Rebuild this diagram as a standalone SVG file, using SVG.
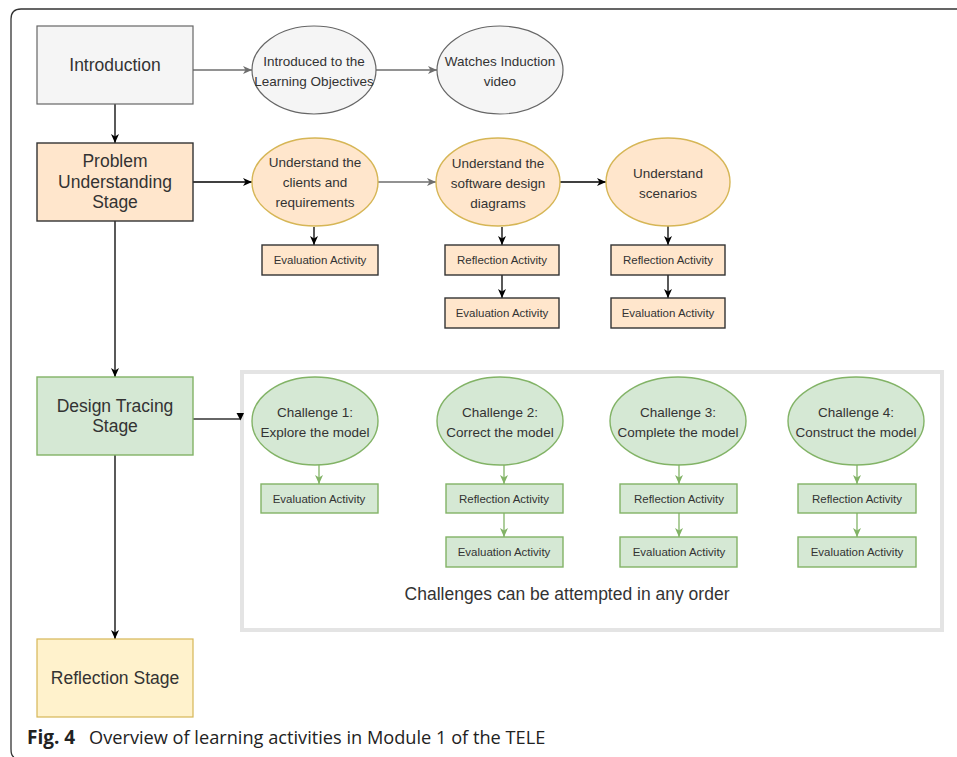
<svg xmlns="http://www.w3.org/2000/svg" width="957" height="757" viewBox="0 0 957 757">
  <defs>
    <marker id="ah-black" markerUnits="userSpaceOnUse" markerWidth="10" markerHeight="10" viewBox="0 0 10 10" refX="9" refY="5" orient="auto">
      <path d="M0,1 L9,5 L0,9 L2.5,5 Z" fill="#000"/>
    </marker>
    <marker id="ah-gray" markerUnits="userSpaceOnUse" markerWidth="10" markerHeight="10" viewBox="0 0 10 10" refX="9" refY="5" orient="auto">
      <path d="M0,1 L9,5 L0,9 L2.5,5 Z" fill="#6e6e6e"/>
    </marker>
    <marker id="ah-green" markerUnits="userSpaceOnUse" markerWidth="10" markerHeight="10" viewBox="0 0 10 10" refX="9" refY="5" orient="auto">
      <path d="M0,1 L9,5 L0,9 L2.5,5 Z" fill="#82b366"/>
    </marker>
    <style>
      text { font-family: "Liberation Sans", Arial, sans-serif; fill: #333; text-anchor: middle; }
      .stage { font-size: 17.5px; }
      .oval { font-size: 13.5px; }
      .act { font-size: 11.5px; }
      .gray { fill: #f5f5f5; stroke: #666; stroke-width: 1.2; }
      .orange { fill: #ffe6cc; stroke: #d6b656; stroke-width: 1.4; }
      .orange-dark { fill: #ffe6cc; stroke: #333; stroke-width: 1.4; }
      .green { fill: #d5e8d4; stroke: #82b366; stroke-width: 1.4; }
      .yellow { fill: #fff2cc; stroke: #d6b656; stroke-width: 1.2; }
      .c-black { stroke: #000; stroke-width: 1.3; fill: none; marker-end: url(#ah-black); }
      .c-gray { stroke: #6e6e6e; stroke-width: 1.3; fill: none; marker-end: url(#ah-gray); }
      .c-green { stroke: #82b366; stroke-width: 1.3; fill: none; marker-end: url(#ah-green); }
      .caption { font-family: "Open Sans", "Noto Sans", sans-serif; font-size: 18.2px; fill: #222; text-anchor: start; }
    </style>
  </defs>

  <rect width="957" height="757" fill="#fff"/>

  <!-- figure frame (open to the right and bottom) -->
  <path d="M957,9 H21 Q11,9 11,19 V749 Q11,756 14,757" fill="none" stroke="#333" stroke-width="1.3"/>

  <!-- challenge container -->
  <rect x="242" y="372" width="700" height="258" fill="none" stroke="#e4e4e4" stroke-width="4"/>

  <g id="connectors">
    <line class="c-gray" x1="193" y1="70" x2="252" y2="70"/>
    <line class="c-gray" x1="376" y1="70" x2="437" y2="70"/>
    <line class="c-black" x1="115" y1="104" x2="115" y2="143"/>
    <line class="c-black" x1="193" y1="182" x2="252" y2="182"/>
    <line class="c-gray" x1="378" y1="182" x2="436" y2="182"/>
    <line class="c-black" x1="560" y1="182" x2="606" y2="182"/>
    <line class="c-black" x1="314" y1="227" x2="314" y2="245"/>
    <line class="c-black" x1="502" y1="227" x2="502" y2="245"/>
    <line class="c-black" x1="502" y1="275" x2="502" y2="298"/>
    <line class="c-black" x1="668" y1="226" x2="668" y2="245"/>
    <line class="c-black" x1="668" y1="275" x2="668" y2="298"/>
    <line class="c-black" x1="115" y1="221" x2="115" y2="377"/>
    <path d="M193,419 H240" stroke="#333" stroke-width="1.3" fill="none"/>
    <polygon points="236.5,413 244,413 240.5,420.5" fill="#000"/>
    <line class="c-black" x1="115" y1="455" x2="115" y2="639"/>
    <line class="c-green" x1="319" y1="465" x2="319" y2="484"/>
    <line class="c-green" x1="504" y1="465" x2="504" y2="484"/>
    <line class="c-green" x1="504" y1="513" x2="504" y2="537"/>
    <line class="c-green" x1="679" y1="465" x2="679" y2="484"/>
    <line class="c-green" x1="679" y1="513" x2="679" y2="537"/>
    <line class="c-green" x1="857" y1="465" x2="857" y2="484"/>
    <line class="c-green" x1="857" y1="513" x2="857" y2="537"/>
  </g>

  <g id="introduction">
    <rect class="gray" x="37" y="26" width="156" height="78"/>
    <text class="stage" x="115" y="71">Introduction</text>
  </g>
  <g id="learning-objectives">
    <ellipse class="gray" cx="314" cy="70" rx="62" ry="44"/>
    <text class="oval" x="314" y="66">Introduced to the</text>
    <text class="oval" x="314" y="86">Learning Objectives</text>
  </g>
  <g id="induction-video">
    <ellipse class="gray" cx="500" cy="70" rx="63" ry="44"/>
    <text class="oval" x="500" y="66">Watches Induction</text>
    <text class="oval" x="500" y="86">video</text>
  </g>

  <g id="problem-understanding">
    <rect class="orange-dark" x="37" y="143" width="156" height="78"/>
    <text class="stage" x="115" y="167">Problem</text>
    <text class="stage" x="115" y="188">Understanding</text>
    <text class="stage" x="115" y="208">Stage</text>
  </g>
  <g id="clients-requirements">
    <ellipse class="orange" cx="315" cy="182" rx="63" ry="44"/>
    <text class="oval" x="315" y="167">Understand the</text>
    <text class="oval" x="315" y="187">clients and</text>
    <text class="oval" x="315" y="207">requirements</text>
  </g>
  <g id="design-diagrams">
    <ellipse class="orange" cx="498" cy="182" rx="62" ry="44"/>
    <text class="oval" x="498" y="168">Understand the</text>
    <text class="oval" x="498" y="188">software design</text>
    <text class="oval" x="498" y="208">diagrams</text>
  </g>
  <g id="scenarios">
    <ellipse class="orange" cx="668" cy="182" rx="62" ry="44"/>
    <text class="oval" x="668" y="178">Understand</text>
    <text class="oval" x="668" y="198">scenarios</text>
  </g>
  <g id="pu-eval-1">
    <rect class="orange-dark" x="262" y="245" width="116" height="30"/>
    <text class="act" x="320" y="264">Evaluation Activity</text>
  </g>
  <g id="pu-refl-2">
    <rect class="orange-dark" x="445" y="245" width="114" height="30"/>
    <text class="act" x="502" y="264">Reflection Activity</text>
  </g>
  <g id="pu-eval-2">
    <rect class="orange-dark" x="445" y="298" width="114" height="30"/>
    <text class="act" x="502" y="317">Evaluation Activity</text>
  </g>
  <g id="pu-refl-3">
    <rect class="orange-dark" x="611" y="245" width="114" height="30"/>
    <text class="act" x="668" y="264">Reflection Activity</text>
  </g>
  <g id="pu-eval-3">
    <rect class="orange-dark" x="611" y="298" width="114" height="30"/>
    <text class="act" x="668" y="317">Evaluation Activity</text>
  </g>

  <g id="design-tracing">
    <rect class="green" x="37" y="377" width="156" height="78"/>
    <text class="stage" x="115" y="412">Design Tracing</text>
    <text class="stage" x="115" y="432">Stage</text>
  </g>
  <g id="challenge-1">
    <ellipse class="green" cx="315" cy="421" rx="63" ry="44"/>
    <text class="oval" x="315" y="417">Challenge 1:</text>
    <text class="oval" x="315" y="437">Explore the model</text>
  </g>
  <g id="challenge-2">
    <ellipse class="green" cx="500" cy="421" rx="63" ry="44"/>
    <text class="oval" x="500" y="417">Challenge 2:</text>
    <text class="oval" x="500" y="437">Correct the model</text>
  </g>
  <g id="challenge-3">
    <ellipse class="green" cx="678" cy="421" rx="68" ry="44"/>
    <text class="oval" x="678" y="417">Challenge 3:</text>
    <text class="oval" x="678" y="437">Complete the model</text>
  </g>
  <g id="challenge-4">
    <ellipse class="green" cx="856" cy="421" rx="68" ry="44"/>
    <text class="oval" x="856" y="417">Challenge 4:</text>
    <text class="oval" x="856" y="437">Construct the model</text>
  </g>
  <g id="dt-eval-1">
    <rect class="green" x="261" y="484" width="117" height="29"/>
    <text class="act" x="319" y="503">Evaluation Activity</text>
  </g>
  <g id="dt-refl-2">
    <rect class="green" x="446" y="484" width="117" height="29"/>
    <text class="act" x="504" y="503">Reflection Activity</text>
  </g>
  <g id="dt-eval-2">
    <rect class="green" x="446" y="537" width="117" height="30"/>
    <text class="act" x="504" y="556">Evaluation Activity</text>
  </g>
  <g id="dt-refl-3">
    <rect class="green" x="620" y="484" width="117" height="29"/>
    <text class="act" x="679" y="503">Reflection Activity</text>
  </g>
  <g id="dt-eval-3">
    <rect class="green" x="620" y="537" width="117" height="30"/>
    <text class="act" x="679" y="556">Evaluation Activity</text>
  </g>
  <g id="dt-refl-4">
    <rect class="green" x="798" y="484" width="118" height="29"/>
    <text class="act" x="857" y="503">Reflection Activity</text>
  </g>
  <g id="dt-eval-4">
    <rect class="green" x="798" y="537" width="118" height="30"/>
    <text class="act" x="857" y="556">Evaluation Activity</text>
  </g>
  <text x="567" y="600" style="font-size:17.5px">Challenges can be attempted in any order</text>

  <g id="reflection-stage">
    <rect class="yellow" x="37" y="639" width="156" height="78"/>
    <text class="stage" x="115" y="684">Reflection Stage</text>
  </g>

  <text class="caption" x="27" y="744" font-weight="bold" style="font-size:19px">Fig. 4</text>
  <text class="caption" x="89" y="744">Overview of learning activities in Module 1 of the TELE</text>
</svg>
